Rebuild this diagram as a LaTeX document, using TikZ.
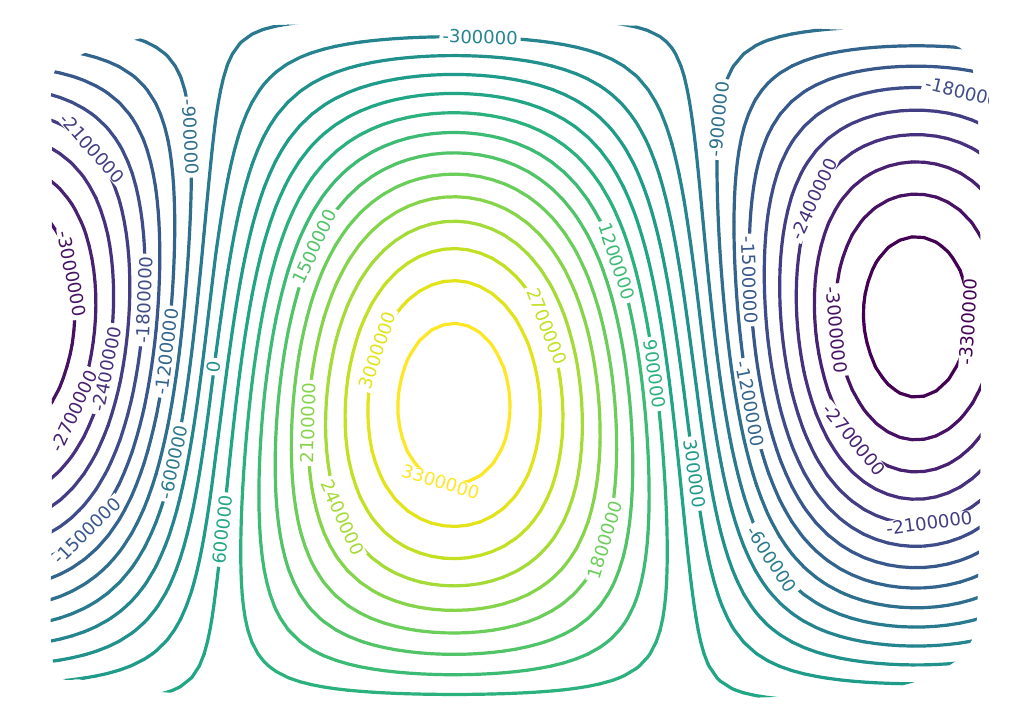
\documentclass[tikz,border=0pt]{standalone}
\usepackage{fontspec}
\setmainfont{DejaVu Sans}
\definecolor{v0}{RGB}{68,1,84}
\definecolor{v1}{RGB}{71,17,100}
\definecolor{v2}{RGB}{72,33,114}
\definecolor{v3}{RGB}{71,48,125}
\definecolor{v4}{RGB}{67,62,132}
\definecolor{v5}{RGB}{62,76,137}
\definecolor{v6}{RGB}{56,88,140}
\definecolor{v7}{RGB}{51,100,141}
\definecolor{v8}{RGB}{46,111,142}
\definecolor{v9}{RGB}{41,122,142}
\definecolor{v10}{RGB}{37,133,142}
\definecolor{v11}{RGB}{33,145,140}
\definecolor{v12}{RGB}{30,155,137}
\definecolor{v13}{RGB}{33,166,133}
\definecolor{v14}{RGB}{43,177,126}
\definecolor{v15}{RGB}{60,187,116}
\definecolor{v16}{RGB}{82,196,104}
\definecolor{v17}{RGB}{107,205,90}
\definecolor{v18}{RGB}{134,212,73}
\definecolor{v19}{RGB}{164,219,54}
\definecolor{v20}{RGB}{195,224,35}
\definecolor{v21}{RGB}{226,227,25}
\definecolor{v22}{RGB}{253,231,37}
\tikzset{
  cline/.style={line width=3.2pt, line cap=round},
  lab/.style={fill=white, inner xsep=3pt, inner ysep=0.5pt, font=\fontsize{18}{18}\selectfont}
}
\def\XO{48}\def\YO{18}\def\DD{12}
% field value, in units of contour levels (level k <-> value -3300000+300000k)
\newcommand\fieldat[3]{%
  \pgfmathsetmacro\fxx{#1}%
  \pgfmathsetmacro\fyy{#2}%
  \pgfmathsetmacro\fuu{\fxx<215 ? -90-(215-\fxx)/219*90 : (\fxx<693 ? (\fxx-454)/239*90 : 90+(\fxx-693)/223*90)}%
  \pgfmathsetmacro\fvv{(\fyy-360.25)/696*180}%
  \pgfmathsetmacro#3{(3.463*cos(\fuu)*cos(\fvv)+0.686*sin(\fvv)+3.3)/0.3}%
}
\newcommand\edgept[6]{%
  \ifdim#1pt>\k pt\def\sone{1}\else\def\sone{0}\fi
  \ifdim#2pt>\k pt\def\stwo{1}\else\def\stwo{0}\fi
  \ifx\sone\stwo\else
    \pgfmathsetmacro\tpar{(\k-#1)/(#2-#1)}%
    \pgfmathsetmacro\ptx{#3+\tpar*(#5-#3)}%
    \pgfmathsetmacro\pty{#4+\tpar*(#6-#4)}%
    \pgfmathtruncatemacro\np{\np+1}%
    \ifcase\np\relax\or
      \let\qAx\ptx\let\qAy\pty\or
      \let\qBx\ptx\let\qBy\pty\or
      \let\qCx\ptx\let\qCy\pty\or
      \let\qDx\ptx\let\qDy\pty\fi
  \fi
}
\newcommand\dolevel{%
  \def\np{0}%
  \edgept\ga\gb\xa\ya\xb\ya
  \edgept\gb\gc\xb\ya\xb\yb
  \edgept\gc\gd\xb\yb\xa\yb
  \edgept\gd\ga\xa\yb\xa\ya
  \ifnum\np=2
    \draw[cline,draw=v\k] (\qAx,\qAy) -- (\qBx,\qBy);
  \else\ifnum\np=4
    \pgfmathsetmacro\gm{(\ga+\gb+\gc+\gd)/4}%
    \ifdim\gm pt>\k pt\def\sm{1}\else\def\sm{0}\fi
    \ifdim\ga pt>\k pt\def\sa{1}\else\def\sa{0}\fi
    \ifx\sm\sa
      \draw[cline,draw=v\k] (\qAx,\qAy) -- (\qBx,\qBy);
      \draw[cline,draw=v\k] (\qCx,\qCy) -- (\qDx,\qDy);
    \else
      \draw[cline,draw=v\k] (\qDx,\qDy) -- (\qAx,\qAy);
      \draw[cline,draw=v\k] (\qBx,\qBy) -- (\qCx,\qCy);
    \fi
  \fi\fi
}
\newcommand\newtonstep[1]{%
  \fieldat{\lx}{\ly}\gz
  \fieldat{\lx+5}{\ly}\gxp
  \fieldat{\lx-5}{\ly}\gxm
  \fieldat{\lx}{\ly+5}\gyp
  \fieldat{\lx}{\ly-5}\gym
  \pgfmathsetmacro\dgx{\gxp-\gxm}%
  \pgfmathsetmacro\dgy{\gyp-\gym}%
  \pgfmathsetmacro\stp{10*(\gz-#1)/(\dgx*\dgx+\dgy*\dgy)}%
  \pgfmathsetmacro\lx{\lx-\stp*\dgx}%
  \pgfmathsetmacro\ly{\ly-\stp*\dgy}%
}
% label: x, y, level index, reference angle, text, node name
\newcommand\clab[6]{%
  \def\lx{#1}\def\ly{#2}%
  \newtonstep{#3}\newtonstep{#3}\newtonstep{#3}%
  \fieldat{\lx+5}{\ly}\gxp
  \fieldat{\lx-5}{\ly}\gxm
  \fieldat{\lx}{\ly+5}\gyp
  \fieldat{\lx}{\ly-5}\gym
  \pgfmathsetmacro\dgx{\gxp-\gxm}%
  \pgfmathsetmacro\dgy{\gyp-\gym}%
  \pgfmathsetmacro\ang{atan2(\dgx,\dgy)}%
  \pgfmathsetmacro\angb{(\ang-(#4))>90 ? \ang-180 : ((\ang-(#4))<-90 ? \ang+180 : \ang)}%
  \node[lab, text=v#3, rotate=\angb] (#6) at (\lx,\ly) {#5};
}
\begin{document}
\begin{tikzpicture}[x=1pt,y=-1pt]
\fill[white] (0,0) rectangle (1023,723);
\useasboundingbox (0,0) rectangle (1023,723);
% sample the field on a grid
\foreach \i in {0,...,78}{\foreach \j in {0,...,58}{%
  \fieldat{\XO+\i*\DD}{\YO+\j*\DD}\gtmp
  \expandafter\xdef\csname g@\i @\j\endcsname{\gtmp}}}
% contour lines (marching squares), clipped to the data region
\begin{scope}
\clip plot[smooth cycle, tension=0.55] coordinates {
  (53,76) (78,56) (133,40) (200,30) (278,25) (430,23) (585,25) (740,27)
  (865,31) (935,41) (963,50) (973,72) (978,120) (980,200) (981,350)
  (980,500) (978,582) (976,625) (966,650) (946,667) (893,687) (745,698)
  (450,701) (180,693) (120,687) (83,680) (53,662) (52,500) (52,300) (52,150)};
\foreach \i in {0,...,77}{%
  \pgfmathtruncatemacro\ip{\i+1}%
  \pgfmathsetmacro\xa{\XO+\i*\DD}%
  \pgfmathsetmacro\xb{\xa+\DD}%
  \foreach \j in {0,...,57}{%
    \pgfmathtruncatemacro\jp{\j+1}%
    \edef\ga{\csname g@\i @\j\endcsname}%
    \edef\gb{\csname g@\ip @\j\endcsname}%
    \edef\gc{\csname g@\ip @\jp\endcsname}%
    \edef\gd{\csname g@\i @\jp\endcsname}%
    \pgfmathtruncatemacro\kmin{max(0,ceil(min(\ga,\gb,\gc,\gd)))}%
    \pgfmathtruncatemacro\kmax{min(22,floor(max(\ga,\gb,\gc,\gd)))}%
    \ifnum\kmin>\kmax\relax\else
      \pgfmathsetmacro\ya{\YO+\j*\DD}%
      \pgfmathsetmacro\yb{\ya+\DD}%
      \foreach \k in {\kmin,...,\kmax}{\dolevel}%
    \fi
  }%
}
\end{scope}
% inline contour labels
\begin{scope}
\clip (0,0) rectangle (988,723);
\clab{480}{40}{10}{0}{-300000}{t1}
\clab{197}{137}{8}{-83}{-900000}{t2}
\clab{90}{150}{4}{-42}{-2100000}{t3}
\clab{70}{274}{1}{-74}{-3000000}{t4}
\clab{143}{300}{5}{85}{-1800000}{t5}
\clab{169}{352}{7}{84}{-1200000}{t6}
\clab{106}{369}{3}{81}{-2400000}{t7}
\clab{72}{410}{2}{63}{-2700000}{t8}
\clab{88}{532}{6}{46}{-1500000}{t9}
\clab{178}{463}{9}{74}{-600000}{t10}
\clab{217}{367}{11}{87}{0}{t11}
\clab{228}{530}{13}{87}{600000}{t12}
\clab{317}{248}{16}{60}{1500000}{t13}
\clab{310}{423}{18}{87}{2100000}{t14}
\clab{337}{520}{19}{-62}{2400000}{t15}
\clab{377}{350}{21}{65}{3000000}{t16}
\clab{440}{484}{22}{-16}{3300000}{t17}
\clab{547}{326}{20}{-62}{2700000}{t18}
\clab{615}{262}{15}{-64}{1200000}{t19}
\clab{654}{374}{14}{-77}{900000}{t20}
\clab{601}{539}{17}{69}{1800000}{t21}
\clab{692}{474}{12}{-81}{300000}{t22}
\clab{714}{119}{8}{86}{-900000}{t23}
\clab{750}{280}{6}{-83}{-1500000}{t24}
\clab{750}{404}{7}{-72}{-1200000}{t25}
\clab{771}{560}{9}{-53}{-600000}{t26}
\clab{814}{199}{3}{61}{-2400000}{t27}
\clab{836}{330}{1}{-85}{-3000000}{t28}
\clab{854}{440}{2}{-48}{-2700000}{t29}
\clab{930}{529}{4}{8}{-2100000}{t30}
\clab{973}{322}{0}{85}{-3300000}{t31}
\clab{968}{92}{5}{-6}{-1800000}{t32}
\end{scope}
\end{tikzpicture}
\end{document}
